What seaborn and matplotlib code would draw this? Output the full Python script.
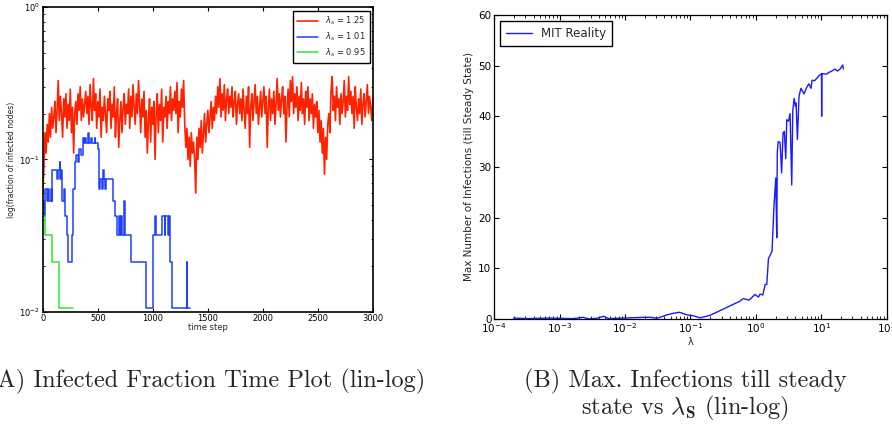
import matplotlib.pyplot as plt
import seaborn as sns
import numpy as np
import pandas as pd

sns.set_theme(style='ticks')
plt.rcParams.update({
    'xtick.direction': 'in', 'ytick.direction': 'in',
    'xtick.top': True, 'ytick.right': True,
    'xtick.color': 'black', 'ytick.color': 'black',
    'axes.edgecolor': 'black',
    'mathtext.fontset': 'dejavusans',
    'legend.fancybox': False, 'legend.edgecolor': 'black', 'legend.framealpha': 1,
})
plt.rcParams['font.family'] = ['DejaVu Sans']

# --- (A) fraction of infected nodes vs time step ---
n_nodes = 94
red_step = 10  # one sample every 10 time steps
red_frac = [
    0.06, 0.09, 0.15, 0.11, 0.17, 0.13, 0.20, 0.14, 0.22, 0.16, 0.19, 0.24, 0.15, 0.21, 0.33, 0.18, 0.26, 0.20, 0.14, 0.25,
    0.19, 0.27, 0.16, 0.23, 0.18, 0.29, 0.15, 0.22, 0.11, 0.20, 0.24, 0.17, 0.27, 0.21, 0.30, 0.18, 0.25, 0.19, 0.23, 0.28,
    0.20, 0.26, 0.17, 0.31, 0.22, 0.18, 0.34, 0.21, 0.27, 0.16, 0.24, 0.19, 0.29, 0.14, 0.22, 0.18, 0.26, 0.20, 0.15, 0.25,
    0.21, 0.28, 0.16, 0.23, 0.19, 0.30, 0.14, 0.20, 0.25, 0.12, 0.18, 0.24, 0.15, 0.22, 0.27, 0.17, 0.23, 0.20, 0.29, 0.16,
    0.26, 0.19, 0.31, 0.22, 0.17, 0.27, 0.20, 0.33, 0.23, 0.15, 0.25, 0.19, 0.28, 0.14, 0.21, 0.11, 0.18, 0.25, 0.13, 0.22,
    0.17, 0.24, 0.10, 0.20, 0.27, 0.15, 0.23, 0.18, 0.29, 0.13, 0.22, 0.19, 0.26, 0.16, 0.24, 0.20, 0.30, 0.18, 0.25, 0.21,
    0.28, 0.20, 0.32, 0.15, 0.24, 0.19, 0.29, 0.22, 0.33, 0.17, 0.12, 0.16, 0.10, 0.14, 0.09, 0.15, 0.11, 0.13, 0.10, 0.06,
    0.14, 0.10, 0.16, 0.12, 0.18, 0.11, 0.15, 0.20, 0.13, 0.17, 0.21, 0.15, 0.19, 0.24, 0.16, 0.22, 0.18, 0.26, 0.20, 0.30,
    0.22, 0.34, 0.19, 0.27, 0.21, 0.31, 0.18, 0.25, 0.29, 0.20, 0.26, 0.22, 0.30, 0.19, 0.24, 0.28, 0.17, 0.23, 0.27, 0.20,
    0.25, 0.18, 0.29, 0.21, 0.16, 0.26, 0.20, 0.30, 0.12, 0.22, 0.27, 0.18, 0.24, 0.31, 0.20, 0.26, 0.17, 0.22, 0.28, 0.19,
    0.24, 0.30, 0.20, 0.26, 0.12, 0.22, 0.29, 0.18, 0.25, 0.20, 0.28, 0.17, 0.23, 0.34, 0.21, 0.27, 0.19, 0.25, 0.30, 0.20,
    0.26, 0.13, 0.22, 0.29, 0.19, 0.33, 0.24, 0.35, 0.20, 0.27, 0.22, 0.30, 0.18, 0.26, 0.21, 0.32, 0.20, 0.25, 0.17, 0.28,
    0.22, 0.30, 0.18, 0.25, 0.20, 0.27, 0.16, 0.23, 0.19, 0.24, 0.15, 0.21, 0.13, 0.18, 0.11, 0.16, 0.08, 0.14, 0.10, 0.17,
    0.20, 0.15, 0.28, 0.35, 0.21, 0.26, 0.18, 0.30, 0.22, 0.25, 0.17, 0.27, 0.20, 0.24, 0.33, 0.19, 0.26, 0.21, 0.35, 0.23,
    0.28, 0.20, 0.26, 0.16, 0.30, 0.22, 0.18, 0.25, 0.20, 0.29, 0.17, 0.23, 0.27, 0.19, 0.24, 0.31, 0.20, 0.26, 0.22, 0.18, 0.25,
]

# infected-node counts at the time steps where they change
blue_t = [0, 8, 21, 40, 50, 55, 70, 80, 85, 130, 140, 152, 160, 167, 172, 190, 205, 222, 230, 262,
          272, 290, 306, 318, 330, 350, 362, 375, 382, 390, 410, 418, 440, 448, 470, 478, 498, 512, 522, 540,
          548, 556, 563, 570, 640, 660, 670, 690, 700, 712, 720, 740, 748, 800, 935, 1005, 1020, 1030, 1080, 1108,
          1112, 1140, 1145, 1155, 1175, 1308, 1314, 1336]
blue_count = [5, 4, 6, 5, 6, 5, 6, 5, 8, 7, 8, 9, 7, 8, 5, 6, 4, 3, 2, 3,
              6, 9, 10, 9, 11, 10, 13, 12, 13, 12, 14, 12, 13, 12, 13, 12, 11, 6, 7, 6,
              8, 7, 6, 7, 5, 4, 3, 4, 3, 4, 3, 5, 3, 2, 1, 3, 4, 3, 4, 3,
              4, 3, 4, 2, 1, 2, 1, 1]
green_t = [0, 3, 22, 86, 146, 270]
green_count = [5, 4, 3, 2, 1, 1]

# --- (B) max infections till steady state vs lambda ---
lam = [1.97e-4, 3.15e-4, 5.0e-4, 7.0e-4, 1.0e-3, 1.6e-3, 2.3e-3, 2.8e-3, 3.7e-3, 4.7e-3,
       5.6e-3, 9.5e-3, 0.019, 0.025, 0.031, 0.044, 0.055, 0.068, 0.088, 0.111,
       0.141, 0.2, 0.575, 0.64, 0.79, 0.97, 1.1, 1.16, 1.28, 1.39,
       1.47, 1.56, 1.77, 1.89, 2.02, 2.09, 2.13, 2.2, 2.35, 2.48,
       2.61, 2.73, 2.87, 2.97, 3.15, 3.34, 3.54, 3.67, 3.85, 4.03,
       4.13, 4.32, 4.58, 4.9, 5.45, 6.0, 6.44, 6.98, 7.24, 7.93,
       8.7, 9.6, 10.1, 10.15, 10.2, 12.2, 12.9, 14.5, 16.3, 17.7,
       19.4, 21.3, 21.8]
max_inf = [0.15, 0.05, 0.1, 0.15, 0.1, 0.05, 0.3, 0.0, 0.1, 0.5,
           0.05, 0.15, 0.3, 0.3, 0.1, 0.8, 1.1, 1.3, 0.8, 0.6,
           0.2, 0.7, 3.5, 4.0, 3.7, 4.8, 4.3, 4.9, 4.7, 6.8,
           6.8, 11.9, 13.3, 22.0, 27.8, 16.0, 33.0, 35.0, 34.8, 28.8,
           36.7, 37.0, 31.6, 39.3, 39.0, 40.5, 26.4, 41.0, 43.5, 42.0,
           42.6, 35.4, 44.0, 45.5, 44.4, 45.7, 46.4, 45.5, 47.1, 47.0,
           47.6, 48.2, 48.3, 40.0, 48.4, 48.3, 48.6, 48.9, 49.3, 48.9,
           49.3, 50.1, 49.3]

fig = plt.figure(figsize=(8.92, 4.24), dpi=100)
ax1 = fig.add_axes([0.048, 0.265, 0.370, 0.718])
ax2 = fig.add_axes([0.554, 0.248, 0.440, 0.717])

red_df = pd.DataFrame({'t': np.arange(len(red_frac)) * red_step, 'frac': red_frac})
sns.lineplot(data=red_df, x='t', y='frac', ax=ax1, color='#ff2200', lw=1.2,
             label=r'$\lambda_s$ = 1.25')
sns.lineplot(x=blue_t, y=np.array(blue_count) / n_nodes, ax=ax1, color='#1f3fff', lw=1.1,
             drawstyle='steps-post', label=r'$\lambda_s$ = 1.01')
sns.lineplot(x=green_t, y=np.array(green_count) / n_nodes, ax=ax1, color='#33e633', lw=1.1,
             drawstyle='steps-post', label=r'$\lambda_s$ = 0.95')

ax1.set_yscale('log')
ax1.set_ylim(0.01, 1)
ax1.set_xlim(0, 3000)
ax1.set_xticks(range(0, 3001, 500))
ax1.tick_params(labelsize=6, length=3, width=0.8, pad=2)
ax1.tick_params(which='minor', length=1.5, width=0.6)
ax1.set_xlabel('time step', fontsize=6, labelpad=0)
ax1.set_ylabel('log(fraction of infected nodes)', fontsize=5.5, labelpad=2)
for s in ax1.spines.values():
    s.set_linewidth(1.2)
ax1.legend(loc='upper right', fontsize=6, handlelength=2.5, borderpad=0.5,
           labelspacing=0.4, borderaxespad=0.4)

sns.lineplot(x=lam, y=max_inf, ax=ax2, color='#1a1aff', lw=1, sort=False,
             estimator=None, label='MIT Reality')
ax2.set_xscale('log')
ax2.set_xlim(1e-4, 1e2)
ax2.set_ylim(0, 60)
ax2.set_yticks(range(0, 61, 10))
ax2.tick_params(labelsize=7.5, length=3.5, width=0.8, pad=2)
ax2.tick_params(which='minor', length=2, width=0.6)
ax2.set_xlabel('λ', fontsize=7, labelpad=1)
ax2.set_ylabel('Max Number of Infections (till Steady State)', fontsize=7.5, labelpad=3)
for s in ax2.spines.values():
    s.set_linewidth(0.9)
ax2.legend(loc='upper left', fontsize=8.5, handlelength=2.2, borderpad=0.5,
           borderaxespad=0.5)

fig.text(0.232, 0.101, '(A) Infected Fraction Time Plot (lin-log)', ha='center', va='center',
         family='cmr10', fontsize=17.5)
fig.text(0.768, 0.101, '(B) Max. Infections till steady', ha='center', va='center',
         family='cmr10', fontsize=17.5)
fig.text(0.768, 0.036, r'state vs $\lambda_{\mathbf{S}}$ (lin-log)', ha='center', va='center',
         family='cmr10', fontsize=17.5, math_fontfamily='cm')

fig.savefig('out.png', dpi=100)
